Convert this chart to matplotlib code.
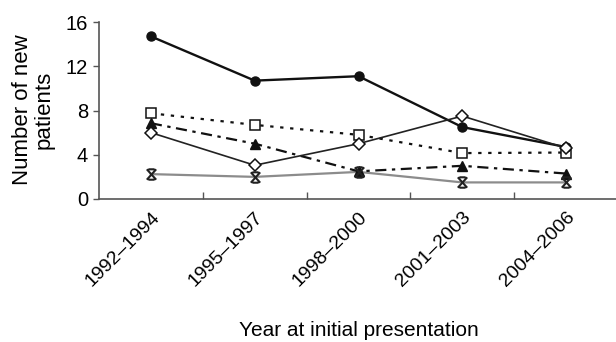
import matplotlib
matplotlib.use("Agg")
import matplotlib.pyplot as plt
from matplotlib.path import Path
from matplotlib.transforms import ScaledTranslation
import numpy as np

plt.rcParams['font.family'] = ['Liberation Sans', 'DejaVu Sans']

# Data: number of new patients per presentation period
periods = ["1992–1994", "1995–1997", "1998–2000", "2001–2003", "2004–2006"]
series_circle = [14.7, 10.7, 11.1, 6.5, 4.7]
series_square = [7.75, 6.7, 5.8, 4.15, 4.2]
series_triangle = [6.85, 5.0, 2.5, 3.0, 2.3]
series_diamond = [6.0, 3.05, 5.0, 7.5, 4.6]
series_cross = [2.25, 2.0, 2.45, 1.5, 1.5]
y_ticks = [0, 4, 8, 12, 16]

fig = plt.figure(figsize=(6.16, 3.42), dpi=100)
ax = fig.add_axes([99 / 616, 1 - 199 / 342, 519 / 616, 177 / 342])
x = np.arange(len(periods))

# "X" marker with short bars on top and bottom
barred_x = Path(
    [(-0.45, -0.5), (0.45, 0.5), (-0.45, 0.5), (0.45, -0.5),
     (-0.3, 0.5), (0.3, 0.5), (-0.3, -0.5), (0.3, -0.5)],
    [Path.MOVETO, Path.LINETO] * 4,
)

ax.plot(x, series_cross, color='#8c8c8c', lw=1.6, zorder=2)
ax.plot(x, series_cross, ls='none', marker=barred_x, ms=7.5, mec='#222222',
        mew=1.5, mfc='none', zorder=6)
ax.plot(x, series_triangle, color='#111111', lw=1.6, dashes=(5, 2.5, 1.5, 2.5),
        marker='^', ms=7, mfc='#111111', mec='#111111', zorder=3)
ax.plot(x, series_square, color='#111111', lw=1.6, dashes=(1.5, 3),
        marker='s', ms=7, mfc='white', mec='#111111', mew=1.1, zorder=4)
ax.plot(x, series_circle, color='#111111', lw=1.7, marker='o', ms=6.5,
        mfc='#111111', mec='#111111', zorder=5)
ax.plot(x, series_diamond, color='#222222', lw=1.2, marker='D', ms=6,
        mfc='white', mec='#111111', mew=1.1, zorder=5)

ax.set_xlim(-0.5, 4.5)
ax.set_ylim(0, 16)
ax.set_yticks(y_ticks)
ax.set_yticklabels([str(t) for t in y_ticks])

# Ticks sit between the periods; labels sit on them
ax.set_xticks(np.arange(0.5, len(periods) - 0.5, 1.0))
ax.set_xticklabels([])
ax.set_xticks(x, minor=True)
ax.set_xticklabels(periods, minor=True, rotation=45, ha='right', va='top',
                   rotation_mode='anchor')
shift = ScaledTranslation(6 / 100, 0, fig.dpi_scale_trans)
for lbl in ax.get_xticklabels(minor=True):
    lbl.set_transform(lbl.get_transform() + shift)

ax.tick_params(axis='x', which='major', direction='in', length=5,
               color='#555555', width=1.0)
ax.tick_params(axis='x', which='minor', length=0, pad=7, labelsize=14)
ax.tick_params(axis='y', direction='out', length=4, color='#555555',
               width=1.0, labelsize=14.5, pad=4)

for side in ('top', 'right'):
    ax.spines[side].set_visible(False)
for side in ('left', 'bottom'):
    ax.spines[side].set_color('#555555')
    ax.spines[side].set_linewidth(1.2)

fig.text(33 / 616, 1 - 110 / 342, "Number of new\npatients", rotation=90,
         ha='center', va='center', multialignment='center', fontsize=16,
         linespacing=1.05)
fig.text(359 / 616, 1 - 331 / 342, "Year at initial presentation",
         ha='center', va='center', fontsize=15)

fig.savefig("out.png", dpi=100)
